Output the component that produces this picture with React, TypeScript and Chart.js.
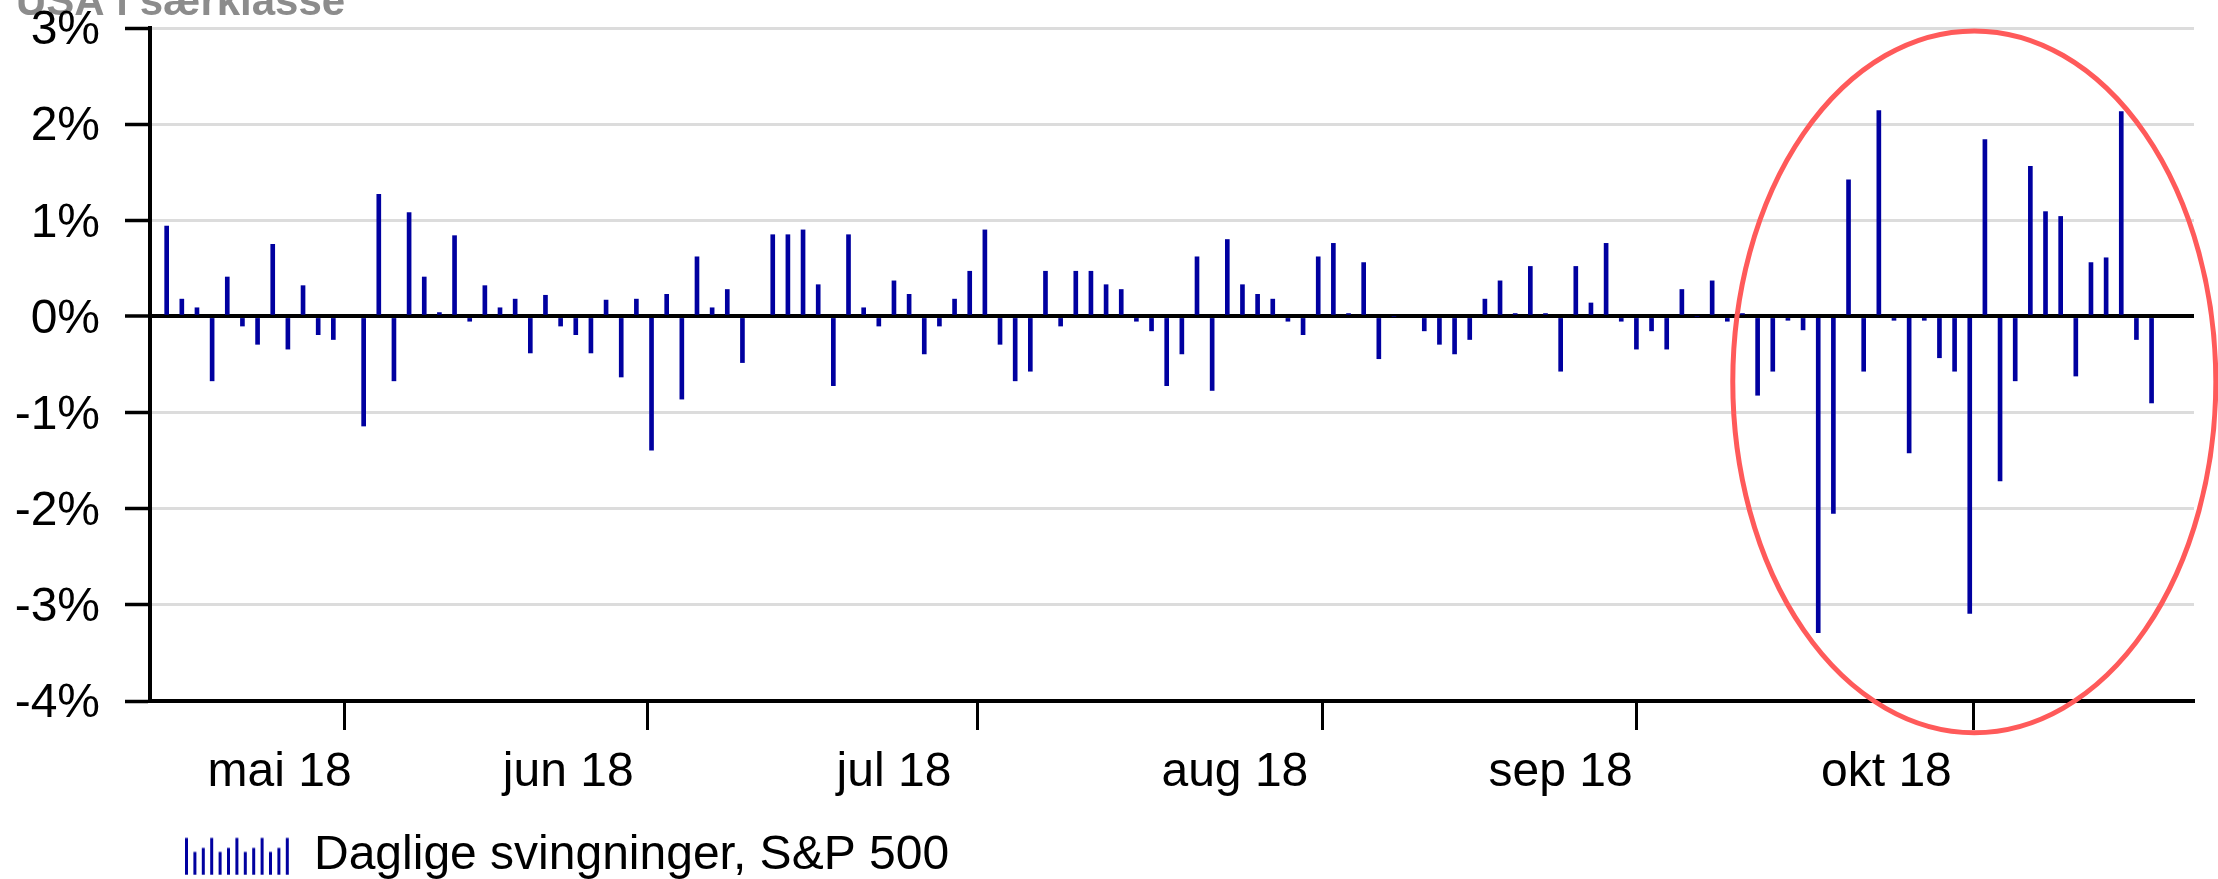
import { useEffect, useRef } from "react";
import { Chart, registerables } from "chart.js";

Chart.register(...registerables);

// ---------- DATA ----------
const chartTitle = "USA i særklasse";
const seriesLabel = "Daglige svingninger, S&P 500";
const monthLabels = ["mai 18", "jun 18", "jul 18", "aug 18", "sep 18", "okt 18"];
const yTicks = [-4, -3, -2, -1, 0, 1, 2, 3];

// Weekdays (trading-day calendar, holidays as null) and daily % change
const mayDays = [10, 11, 14, 15, 16, 17, 18, 21, 22, 23, 24, 25, 28, 29, 30, 31];
const mayValues = [0.94, 0.18, 0.09, -0.67, 0.41, -0.1, -0.29, 0.75, -0.34, 0.32, -0.19, -0.24, null, -1.14, 1.27, -0.67];

const junDays = [1, 4, 5, 6, 7, 8, 11, 12, 13, 14, 15, 18, 19, 20, 21, 22, 25, 26, 27, 28, 29];
const junValues = [1.08, 0.41, 0.04, 0.84, -0.05, 0.32, 0.09, 0.18, -0.38, 0.22, -0.1, -0.19, -0.38, 0.17, -0.63, 0.18, -1.39, 0.23, -0.86, 0.62, 0.09];

const julDays = [2, 3, 4, 5, 6, 9, 10, 11, 12, 13, 16, 17, 18, 19, 20, 23, 24, 25, 26, 27, 30, 31];
const julValues = [0.28, -0.48, null, 0.85, 0.85, 0.9, 0.33, -0.72, 0.85, 0.09, -0.1, 0.37, 0.23, -0.39, -0.1, 0.18, 0.47, 0.9, -0.29, -0.67, -0.57, 0.47];

const augDays = [1, 2, 3, 6, 7, 8, 9, 10, 13, 14, 15, 16, 17, 20, 21, 22, 23, 24, 27, 28, 29, 30, 31];
const augValues = [-0.1, 0.47, 0.47, 0.33, 0.28, -0.05, -0.15, -0.72, -0.39, 0.62, -0.77, 0.8, 0.33, 0.23, 0.18, -0.05, -0.19, 0.62, 0.76, 0.03, 0.56, -0.44, 0];

const sepDays = [3, 4, 5, 6, 7, 10, 11, 12, 13, 14, 17, 18, 19, 20, 21, 24, 25, 26, 27, 28];
const sepValues = [null, -0.15, -0.29, -0.39, -0.24, 0.18, 0.37, 0.03, 0.52, 0.03, -0.57, 0.52, 0.14, 0.76, -0.05, -0.34, -0.15, -0.34, 0.28, 0];

const oktDays = [1, 2, 3, 4, 5, 8, 9, 10, 11, 12, 15, 16, 17, 18, 19, 22, 23, 24, 25, 26, 29, 30, 31];
const oktValues = [0.37, -0.05, 0.03, -0.82, -0.57, -0.04, -0.14, -3.29, -2.05, 1.42, -0.57, 2.14, -0.04, -1.42, -0.04, -0.43, -0.57, -3.09, 1.84, -1.71, -0.67, 1.56, 1.09];

const novDays = [1, 2, 5, 6, 7, 8, 9];
const novValues = [1.04, -0.62, 0.56, 0.61, 2.13, -0.24, -0.9];

// Highlight ellipse (data units: weekday index, %)
const highlightCenterIdx = 119.3;
const highlightCenterPct = -0.68;
const highlightRadiusIdx = 15.94;
const highlightRadiusPct = 3.65;

// ---------- derived tables ----------
const months = [
  { m: 5, days: mayDays, values: mayValues },
  { m: 6, days: junDays, values: junValues },
  { m: 7, days: julDays, values: julValues },
  { m: 8, days: augDays, values: augValues },
  { m: 9, days: sepDays, values: sepValues },
  { m: 10, days: oktDays, values: oktValues },
  { m: 11, days: novDays, values: novValues },
];
const dates: string[] = months.flatMap((mo) => mo.days.map((d) => `2018-${String(mo.m).padStart(2, "0")}-${String(d).padStart(2, "0")}`));
const values: (number | null)[] = months.flatMap((mo) => mo.values as (number | null)[]);
const monthStarts: number[] = [];
{
  let c = 0;
  months.forEach((mo, i) => {
    if (i > 0) monthStarts.push(c);
    c += mo.days.length;
  });
}

const X_MIN = -1.1;
const X_MAX = 133.8;

const edges = [X_MIN, ...monthStarts];
const labelPositions = monthLabels.map((_, i) => (edges[i] + edges[i + 1]) / 2);
const labelMap = new Map<number, string>();
labelPositions.forEach((p, i) => labelMap.set(p, monthLabels[i]));
const boundarySet = new Set<number>(monthStarts);

const BLUE = "rgb(0,0,160)";
const FONT = "'Liberation Sans', Arial, Helvetica, sans-serif";

function makeLegendIcon(): HTMLCanvasElement {
  const c = document.createElement("canvas");
  c.width = 290;
  c.height = 40;
  const g = c.getContext("2d")!;
  const heights = [37, 23, 27];
  g.fillStyle = BLUE;
  for (let i = 0; i < 13; i++) {
    const h = heights[i % 3];
    const x = 185 + i * 8.4;
    g.fillRect(x, 39.5 - h, 3, h);
  }
  return c;
}

const titlePlugin = {
  id: "cornerTitle",
  beforeDraw(chart: any) {
    const ctx = chart.ctx;
    ctx.save();
    ctx.font = `bold 42px ${FONT}`;
    ctx.fillStyle = "#8c8c8c";
    ctx.textBaseline = "alphabetic";
    ctx.textAlign = "left";
    ctx.fillText(chartTitle, 16, 14.5);
    ctx.restore();
  },
};

const ellipsePlugin = {
  id: "highlightEllipse",
  afterDraw(chart: any) {
    const { x, y } = chart.scales;
    const ctx = chart.ctx;
    const cx = x.getPixelForValue(highlightCenterIdx);
    const rx = x.getPixelForValue(highlightCenterIdx + highlightRadiusIdx) - cx;
    const cy = y.getPixelForValue(highlightCenterPct);
    const ry = cy - y.getPixelForValue(highlightCenterPct + highlightRadiusPct);
    ctx.save();
    ctx.strokeStyle = "rgb(255,90,90)";
    ctx.lineWidth = 5;
    ctx.beginPath();
    ctx.ellipse(cx, cy, rx, ry, 0, 0, Math.PI * 2);
    ctx.stroke();
    ctx.restore();
  },
};

export default function App() {
  const ref = useRef<HTMLCanvasElement>(null);

  useEffect(() => {
    document.body.style.margin = "0";
    const canvas = ref.current!;
    const icon = makeLegendIcon();
    const chart = new Chart(canvas, {
      type: "bar",
      data: {
        labels: dates,
        datasets: [
          {
            label: seriesLabel,
            data: values.map((v, i) => ({ x: i, y: v })) as any,
            backgroundColor: BLUE,
            borderWidth: 0,
            barThickness: 4,
          },
        ],
      },
      plugins: [titlePlugin, ellipsePlugin],
      options: {
        animation: false,
        responsive: false,
        devicePixelRatio: 1,
        layout: { padding: { top: 28, right: 24, bottom: -10.4, left: 0 } },
        font: { family: FONT, size: 48 },
        plugins: {
          tooltip: { enabled: false },
          title: { display: false },
          legend: {
            display: true,
            position: "bottom",
            align: "start",
            labels: {
              usePointStyle: true,
              pointStyle: icon as any,
              pointStyleWidth: 290,
              padding: 0,
              color: "#000",
              font: { family: FONT, size: 48 },
            },
          },
        },
        scales: {
          x: {
            type: "linear",
            min: X_MIN,
            max: X_MAX,
            offset: false,
            afterBuildTicks: (s: any) => {
              const vals = [...monthStarts, ...labelPositions].sort((a, b) => a - b);
              s.ticks = vals.map((v) => ({ value: v }));
            },
            afterFit: (s: any) => {
              s.height = 130.4;
            },
            grid: {
              display: true,
              drawOnChartArea: false,
              drawTicks: true,
              tickLength: 29,
              tickWidth: 3,
              tickColor: (ctx: any) => (ctx.tick && boundarySet.has(ctx.tick.value) ? "#000" : "rgba(0,0,0,0)"),
              color: "rgba(0,0,0,0)",
            },
            border: { display: true, color: "#000", width: 4 },
            ticks: {
              autoSkip: false,
              maxRotation: 0,
              minRotation: 0,
              padding: 14,
              color: "#000",
              font: { family: FONT, size: 48 },
              callback: (v: any) => labelMap.get(v) ?? "",
            },
          },
          y: {
            type: "linear",
            min: -4,
            max: 3,
            afterBuildTicks: (s: any) => {
              s.ticks = yTicks.map((v) => ({ value: v }));
            },
            afterFit: (s: any) => {
              s.width = 150;
              s.paddingTop = 0;
              s.paddingBottom = 0;
            },
            grid: {
              display: true,
              drawOnChartArea: true,
              drawTicks: true,
              tickLength: 25,
              tickWidth: 3.5,
              tickColor: "#000",
              lineWidth: (ctx: any) => (ctx.tick && ctx.tick.value === 0 ? 4 : 3),
              color: (ctx: any) => (ctx.tick && ctx.tick.value === 0 ? "#000" : "#dcdcdc"),
            },
            border: { display: true, color: "#000", width: 4 },
            ticks: {
              padding: 25,
              labelOffset: 3,
              color: "#000",
              font: { family: FONT, size: 48 },
              callback: (v: any) => `${v}%`,
            },
          },
        },
      },
    });
    return () => chart.destroy();
  }, []);

  return (
    <canvas
      ref={ref}
      width={2218}
      height={879}
      style={{ display: "block", width: "2218px", height: "879px" }}
    />
  );
}
